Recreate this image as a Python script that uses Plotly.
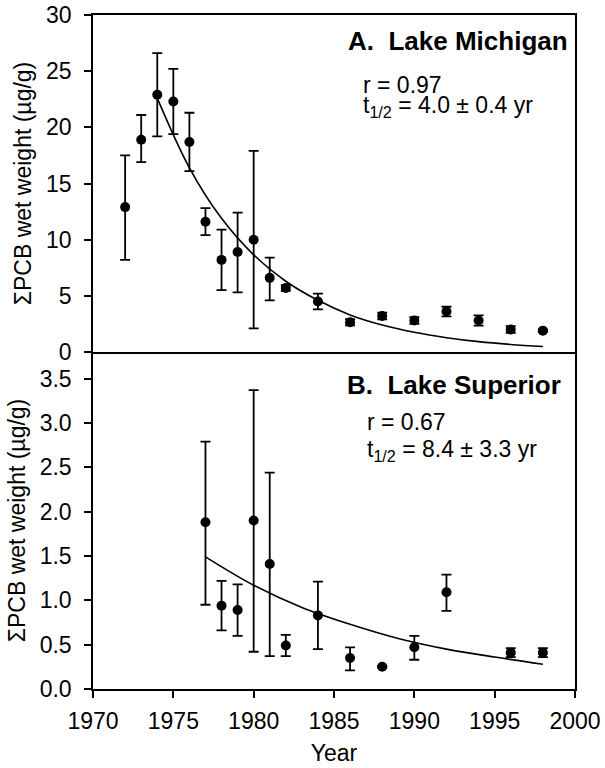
import plotly.graph_objects as go
from plotly.subplots import make_subplots

# ---- Lake Michigan (panel A) ----
years_A = [1972, 1973, 1974, 1975, 1976, 1977, 1978, 1979, 1980, 1981, 1982,
           1984, 1986, 1988, 1990, 1992, 1994, 1996, 1998]
mean_A = [12.9, 18.9, 22.9, 22.3, 18.7, 11.6, 8.2, 8.9, 10.0, 6.6, 5.7,
          4.5, 2.65, 3.2, 2.8, 3.6, 2.8, 2.0, 1.9]
hi_A = [17.5, 21.1, 26.6, 25.2, 21.3, 12.8, 10.9, 12.4, 17.9, 8.4, 5.95,
        5.2, 2.93, 3.5, 3.1, 4.03, 3.26, 2.3, 2.0]
lo_A = [8.2, 16.9, 19.2, 19.4, 16.1, 10.4, 5.5, 5.3, 2.1, 4.6, 5.45,
        3.8, 2.37, 2.9, 2.5, 3.17, 2.34, 1.7, 1.8]
fit_years_A = [1974, 1976, 1978, 1980, 1982, 1984, 1986, 1988, 1990, 1992, 1994, 1996, 1998]
fit_A = [22.6, 16.4, 11.9, 8.65, 6.3, 4.6, 3.3, 2.4, 1.75, 1.27, 0.92, 0.67, 0.49]

# ---- Lake Superior (panel B) ----
years_B = [1977, 1978, 1979, 1980, 1981, 1982, 1984, 1986, 1988, 1990, 1992, 1996, 1998]
mean_B = [1.88, 0.94, 0.89, 1.90, 1.41, 0.49, 0.83, 0.35, 0.25, 0.47, 1.09, 0.41, 0.41]
hi_B = [2.79, 1.22, 1.18, 3.37, 2.44, 0.61, 1.21, 0.47, 0.26, 0.60, 1.29, 0.46, 0.46]
lo_B = [0.95, 0.66, 0.60, 0.42, 0.37, 0.37, 0.45, 0.21, 0.24, 0.33, 0.88, 0.36, 0.36]
fit_years_B = [1977, 1980, 1983, 1986, 1989, 1992, 1995, 1998]
fit_B = [1.49, 1.17, 0.92, 0.73, 0.57, 0.45, 0.36, 0.28]

x_ticks = [1970, 1975, 1980, 1985, 1990, 1995, 2000]
y_ticks_A = [0, 5, 10, 15, 20, 25, 30]
y_ticks_B = [0.0, 0.5, 1.0, 1.5, 2.0, 2.5, 3.0, 3.5]

FONT = "Liberation Sans, Arial, Helvetica, sans-serif"

fig = make_subplots(rows=2, cols=1, shared_xaxes=True, vertical_spacing=0)


def add_panel(row, yrs, mean, hi, lo, fx, fy):
    fig.add_trace(go.Scatter(
        x=fx, y=fy, mode="lines", line=dict(color="black", width=1.6, shape="spline"),
        showlegend=False, hoverinfo="skip"), row=row, col=1)
    fig.add_trace(go.Scatter(
        x=yrs, y=mean, mode="markers",
        marker=dict(color="black", size=10),
        error_y=dict(type="data", symmetric=False,
                     array=[h - m for h, m in zip(hi, mean)],
                     arrayminus=[m - l for m, l in zip(mean, lo)],
                     color="black", thickness=1.8, width=5),
        showlegend=False), row=row, col=1)


add_panel(1, years_A, mean_A, hi_A, lo_A, fit_years_A, fit_A)
add_panel(2, years_B, mean_B, hi_B, lo_B, fit_years_B, fit_B)

axis_common = dict(showline=True, linecolor="black", linewidth=1.5,
                   showgrid=False, zeroline=False, automargin=False,
                   ticklabeloverflow="allow",
                   tickfont=dict(family=FONT, size=23, color="black"))

fig.update_xaxes(range=[1970, 2000], tickvals=x_ticks, **axis_common)
fig.update_xaxes(ticks="", showticklabels=False, mirror=True, row=1, col=1)
fig.update_xaxes(ticks="outside", ticklen=7, tickwidth=1.5, tickcolor="black", mirror=False,
                 ticklabelstandoff=4,
                 title=dict(text="Year", font=dict(family=FONT, size=23, color="black"), standoff=12),
                 row=2, col=1)

ytitle = "ΣPCB wet weight (µg/g)"
fig.update_yaxes(range=[0, 30], tickvals=y_ticks_A, ticks="outside", ticklen=7,
                 tickwidth=1.5, tickcolor="black", mirror=True, ticklabelstandoff=8,
                 title=dict(text=ytitle, font=dict(family=FONT, size=23, color="black"), standoff=8),
                 row=1, col=1, **axis_common)
fig.update_yaxes(range=[0, 3.8], tickvals=y_ticks_B, tickformat=".1f", ticks="outside", ticklen=7,
                 tickwidth=1.5, tickcolor="black", mirror=True, ticklabelstandoff=8,
                 title=dict(text=ytitle, font=dict(family=FONT, size=23, color="black"), standoff=8),
                 row=2, col=1, **axis_common)

ann = [
    dict(text="<b>A.\u00a0 Lake Michigan</b>", x=0.99, y=0.961, xanchor="right", size=26),
    dict(text="r = 0.97", x=0.556, y=0.896, xanchor="left", size=23),
    dict(text="t<sub>1/2</sub> = 4.0 ± 0.4 yr", x=0.556, y=0.864, xanchor="left", size=23),
    dict(text="<b>B.\u00a0 Lake Superior</b>", x=0.975, y=0.451, xanchor="right", size=26),
    dict(text="r = 0.67", x=0.564, y=0.396, xanchor="left", size=23),
    dict(text="t<sub>1/2</sub> = 8.4 ± 3.3 yr", x=0.564, y=0.354, xanchor="left", size=23),
]
for a in ann:
    fig.add_annotation(text=a["text"], x=a["x"], y=a["y"], xref="paper", yref="paper",
                       xanchor=a["xanchor"], yanchor="middle", showarrow=False,
                       font=dict(family=FONT, size=a["size"], color="black"))

fig.update_layout(
    width=605, height=768,
    margin=dict(l=93, r=30, t=15, b=79),
    paper_bgcolor="white", plot_bgcolor="white",
    font=dict(family=FONT, color="black"),
)

fig.write_html("out.html", config={"displayModeBar": False},
               post_script="document.body.style.margin='0px';")
